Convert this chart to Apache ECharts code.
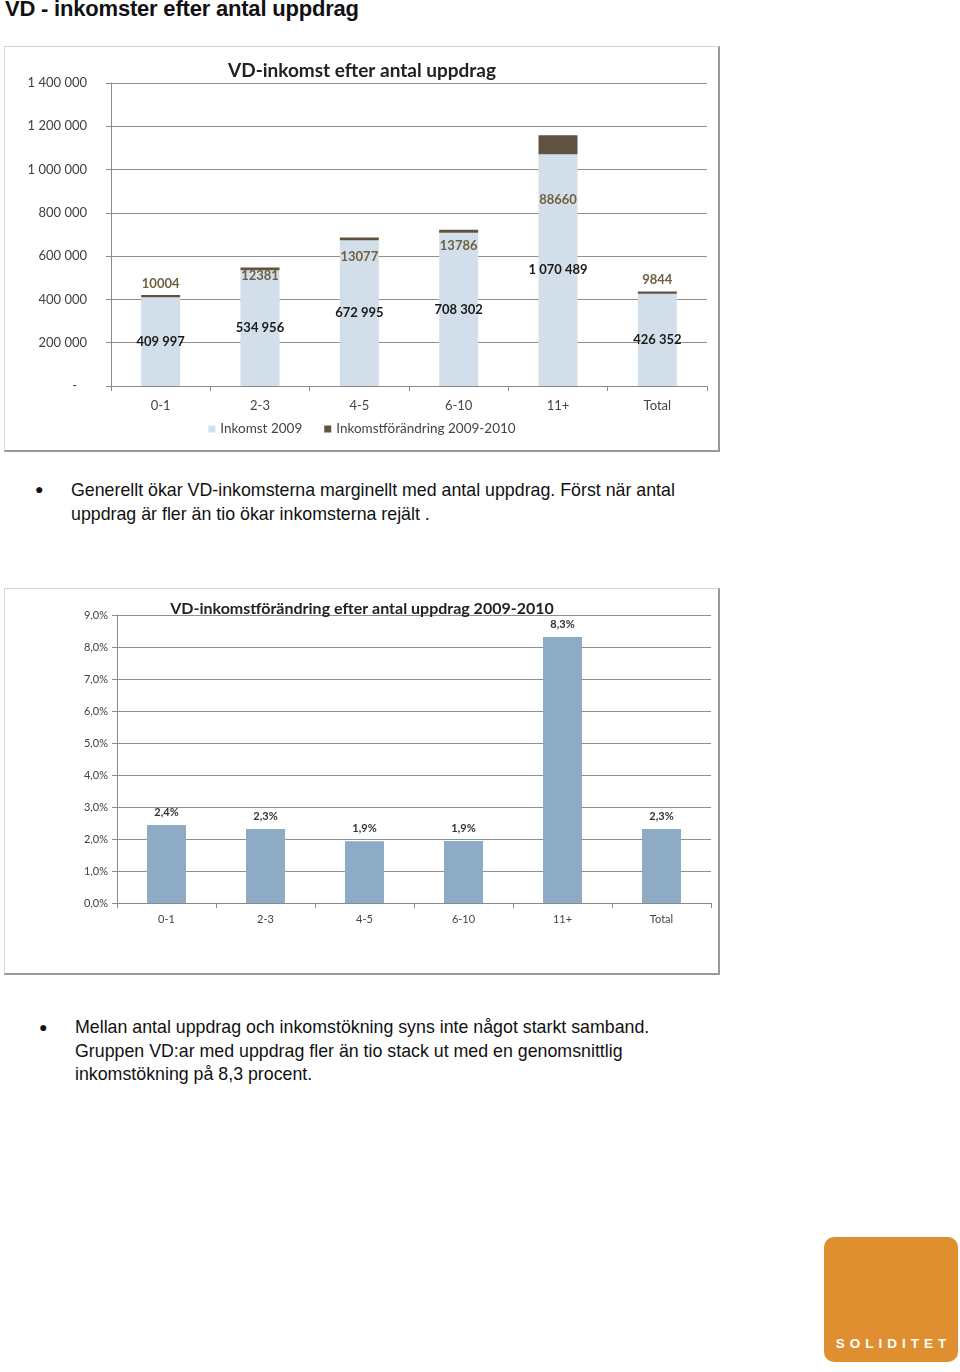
<!DOCTYPE html>
<html>
<head>
<meta charset="utf-8">
<script src="https://cdn.jsdelivr.net/npm/echarts@6/dist/echarts.min.js"></script>
<style>
  html, body { margin: 0; padding: 0; background: #fff; }
  body { width: 960px; height: 1372px; position: relative; overflow: hidden; font-family: "Liberation Sans", Arial, sans-serif; color: #111; }
  .pagetitle { position: absolute; left: 5px; top: -4px; font-size: 22px; font-weight: bold; letter-spacing: -0.2px; white-space: nowrap; }
  .chart { position: absolute; left: 4px; width: 716px; }
  .frame { position: absolute; left: 4px; width: 716px; box-sizing: border-box; border-top: 1px solid #d4d4d4; border-left: 1px solid #d4d4d4; border-right: 2px solid #999; border-bottom: 2px solid #999; pointer-events: none; }
  .bullet { position: absolute; font-size: 17.8px; line-height: 24px; white-space: nowrap; }
  .dot { position: absolute; font-size: 14px; }
  .logo { position: absolute; left: 824px; top: 1237px; width: 134px; height: 125px; background: #df8f30; border-radius: 10px; }
  .logo span { position: absolute; left: 0; right: 0; bottom: 11px; text-align: center; color: #fff; font-family: "Liberation Sans", Arial, sans-serif; font-weight: bold; font-size: 13.5px; letter-spacing: 5px; padding-left: 5px; }
</style>
</head>
<body>
<div class="pagetitle">VD - inkomster efter antal uppdrag</div>

<div id="c1" class="chart" style="top:46px;height:406px;"></div>
<div class="frame" style="top:46px;height:406px;"></div>

<div class="dot" style="left:35px;top:481px;">&#9679;</div>
<div class="bullet" style="left:71px;top:478px;">Generellt ökar VD-inkomsterna marginellt med antal uppdrag. Först när antal<br>uppdrag är fler än tio ökar inkomsterna rejält .</div>

<div id="c2" class="chart" style="top:588px;height:387px;"></div>
<div class="frame" style="top:588px;height:387px;"></div>

<div class="dot" style="left:39px;top:1019px;">&#9679;</div>
<div class="bullet" style="left:75px;top:1016px;line-height:23.5px;">Mellan antal uppdrag och inkomstökning syns inte något starkt samband.<br>Gruppen VD:ar med uppdrag fler än tio stack ut med en genomsnittlig<br>inkomstökning på 8,3 procent.</div>

<div class="logo"><span>SOLIDITET</span></div>

<script>
// ---- data ----
var categories = ['0-1', '2-3', '4-5', '6-10', '11+', 'Total'];
var income2009 = [409997, 534956, 672995, 708302, 1070489, 426352];
var incomeChange = [10004, 12381, 13077, 13786, 88660, 9844];
var changePct = [2.44, 2.31, 1.93, 1.94, 8.31, 2.31];
var incomeTicks = [0, 200000, 400000, 600000, 800000, 1000000, 1200000, 1400000];

// label vertical shifts for the change labels (styling only)
var changeLabelShift = [-3, 17, 28, 25, 73, -3];

var FONT = 'Lato, "Open Sans", sans-serif';

function fmtSpace(v) {
  if (v === 0) return '-   ';
  return String(Math.round(v)).replace(/\B(?=(\d{3})+(?!\d))/g, ' ');
}

var c1 = echarts.init(document.getElementById('c1'));
c1.setOption({
  animation: false,
  title: {
    text: 'VD-inkomst efter antal uppdrag', left: 'center', top: 10,
    textStyle: { fontFamily: FONT, fontSize: 19, fontWeight: 'bold', color: '#222' }
  },
  legend: {
    bottom: 11, left: 'center', itemWidth: 7, itemHeight: 7, itemGap: 22, icon: 'rect',
    textStyle: { fontFamily: FONT, fontSize: 13.5, color: '#444' },
    data: ['Inkomst 2009', 'Inkomstförändring 2009-2010']
  },
  grid: { left: 107, right: 13, top: 37, bottom: 66 },
  xAxis: {
    type: 'category', data: categories,
    axisLine: { lineStyle: { color: '#8a8a8a' } },
    axisTick: { show: true, length: 5, lineStyle: { color: '#8a8a8a' } },
    axisLabel: { fontFamily: FONT, fontSize: 13, color: '#444', margin: 13 }
  },
  yAxis: {
    type: 'value', min: 0, max: 1400000, interval: 200000,
    axisLine: { show: true, lineStyle: { color: '#8a8a8a' } },
    axisTick: { show: true, length: 5, lineStyle: { color: '#8a8a8a' } },
    splitLine: { lineStyle: { color: '#8f8f8f' } },
    axisLabel: { fontFamily: FONT, fontSize: 13, color: '#404040', margin: 24,
      formatter: function (v) { return incomeTicks.indexOf(v) >= 0 ? fmtSpace(v) : ''; } }
  },
  series: [
    {
      name: 'Inkomst 2009', type: 'bar', stack: 's', barWidth: 39,
      itemStyle: { color: '#d2dfea' },
      data: income2009,
      label: { show: true, position: 'inside', fontFamily: FONT, fontSize: 13, fontWeight: 'bold', color: '#1a1a1a',
        formatter: function (p) { return fmtSpace(p.value); } }
    },
    {
      name: 'Inkomstförändring 2009-2010', type: 'bar', stack: 's', barWidth: 39,
      itemStyle: { color: '#5f523f' },
      data: incomeChange.map(function (v, i) {
        return { value: v, label: { offset: [0, changeLabelShift[i]] } };
      }),
      label: { show: true, position: 'top', distance: 2, fontFamily: FONT, fontSize: 13, fontWeight: 'bold', color: '#6e6040',
        formatter: function (p) { return String(p.value); } }
    }
  ]
});

var c2 = echarts.init(document.getElementById('c2'));
c2.setOption({
  animation: false,
  title: {
    text: 'VD-inkomstförändring efter antal uppdrag 2009-2010', left: 'center', top: 8,
    textStyle: { fontFamily: FONT, fontSize: 16, fontWeight: 'bold', color: '#222' }
  },
  grid: { left: 113, right: 9, top: 27, bottom: 72 },
  xAxis: {
    type: 'category', data: categories,
    axisLine: { lineStyle: { color: '#8a8a8a' } },
    axisTick: { show: true, length: 5, lineStyle: { color: '#8a8a8a' } },
    axisLabel: { fontFamily: FONT, fontSize: 11, color: '#444', margin: 11 }
  },
  yAxis: {
    type: 'value', min: 0, max: 9, interval: 1,
    axisLine: { show: true, lineStyle: { color: '#8a8a8a' } },
    axisTick: { show: true, length: 5, lineStyle: { color: '#8a8a8a' } },
    splitLine: { lineStyle: { color: '#8f8f8f' } },
    axisLabel: { fontFamily: FONT, fontSize: 11, color: '#404040', margin: 9,
      formatter: function (v) { return v.toFixed(1).replace('.', ',') + '%'; } }
  },
  series: [
    {
      type: 'bar', barWidth: 39,
      itemStyle: { color: '#8dabc4' },
      data: changePct,
      label: { show: true, position: 'top', distance: 7, fontFamily: FONT, fontSize: 11, fontWeight: 'bold', color: '#333',
        formatter: function (p) { return p.value.toFixed(1).replace('.', ',') + '%'; } }
    }
  ]
});
</script>
</body>
</html>
